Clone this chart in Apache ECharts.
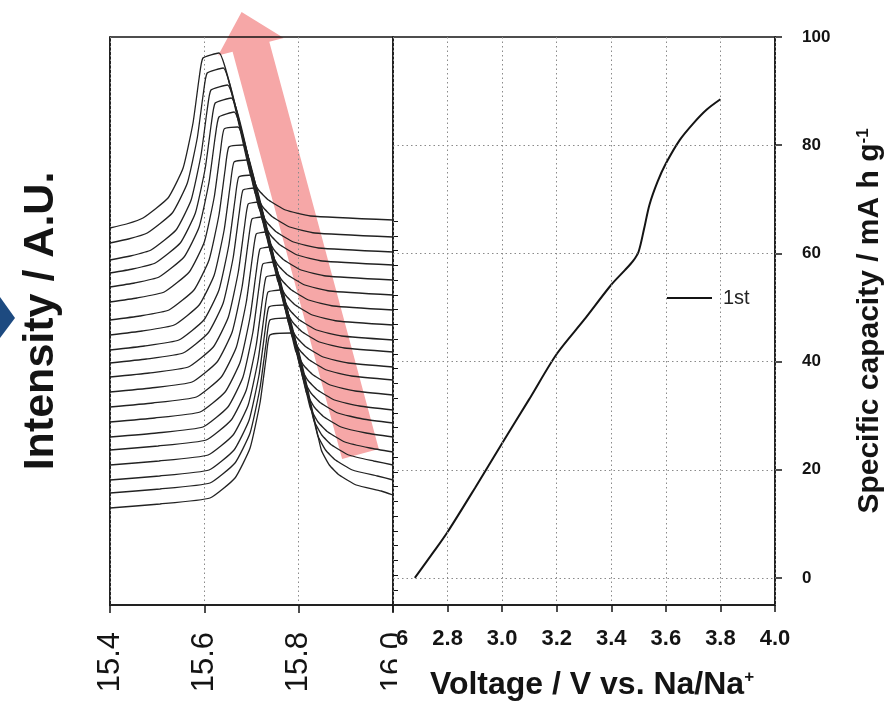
<!DOCTYPE html>
<html>
<head>
<meta charset="utf-8">
<script src="https://cdn.jsdelivr.net/npm/echarts@6/dist/echarts.min.js"></script>
<style>
  html, body { margin: 0; padding: 0; background: #fff; }
  #chart { width: 888px; height: 703px; }
</style>
</head>
<body>
<div id="chart"></div>
<script>
// ---- in-situ XRD: reflection of successive scans, first scan at the bottom ----
// Each scan: 2θ positions (deg) and offset intensity (a.u.) on a common waterfall scale.
const scanAngles = [
  [15.400, 15.506, 15.612, 15.665, 15.697, 15.718, 15.731, 15.739, 15.784, 15.848, 15.865, 15.886, 15.922, 15.975, 16.000],
  [15.400, 15.506, 15.612, 15.665, 15.697, 15.718, 15.731, 15.739, 15.775, 15.840, 15.857, 15.878, 15.914, 15.967, 16.000],
  [15.400, 15.505, 15.610, 15.663, 15.695, 15.716, 15.729, 15.737, 15.769, 15.832, 15.849, 15.870, 15.906, 15.959, 16.000],
  [15.400, 15.504, 15.608, 15.661, 15.693, 15.714, 15.727, 15.735, 15.760, 15.824, 15.841, 15.862, 15.898, 15.951, 16.000],
  [15.400, 15.502, 15.604, 15.657, 15.689, 15.710, 15.723, 15.731, 15.752, 15.816, 15.833, 15.854, 15.890, 15.943, 16.000],
  [15.400, 15.499, 15.597, 15.650, 15.682, 15.703, 15.716, 15.724, 15.746, 15.809, 15.826, 15.847, 15.883, 15.936, 16.000],
  [15.400, 15.495, 15.591, 15.644, 15.676, 15.697, 15.710, 15.718, 15.737, 15.802, 15.819, 15.840, 15.876, 15.929, 16.000],
  [15.400, 15.491, 15.583, 15.636, 15.668, 15.689, 15.702, 15.710, 15.729, 15.793, 15.810, 15.831, 15.867, 15.920, 16.000],
  [15.400, 15.487, 15.574, 15.627, 15.659, 15.680, 15.693, 15.701, 15.720, 15.785, 15.802, 15.823, 15.859, 15.912, 16.000],
  [15.400, 15.483, 15.566, 15.619, 15.651, 15.672, 15.685, 15.693, 15.714, 15.778, 15.795, 15.816, 15.852, 15.905, 16.000],
  [15.400, 15.477, 15.555, 15.608, 15.640, 15.661, 15.674, 15.682, 15.705, 15.770, 15.787, 15.808, 15.844, 15.897, 16.000],
  [15.400, 15.473, 15.546, 15.599, 15.631, 15.652, 15.665, 15.673, 15.699, 15.764, 15.781, 15.802, 15.838, 15.891, 16.000],
  [15.400, 15.468, 15.536, 15.589, 15.621, 15.642, 15.655, 15.663, 15.690, 15.755, 15.772, 15.793, 15.829, 15.882, 16.000],
  [15.400, 15.463, 15.525, 15.578, 15.610, 15.631, 15.644, 15.652, 15.682, 15.747, 15.764, 15.785, 15.821, 15.874, 16.000],
  [15.400, 15.457, 15.515, 15.568, 15.600, 15.621, 15.634, 15.642, 15.671, 15.739, 15.756, 15.777, 15.813, 15.866, 16.000],
  [15.400, 15.452, 15.504, 15.557, 15.589, 15.610, 15.623, 15.631, 15.663, 15.731, 15.748, 15.769, 15.805, 15.858, 16.000],
  [15.400, 15.448, 15.496, 15.549, 15.581, 15.602, 15.615, 15.623, 15.657, 15.723, 15.740, 15.761, 15.797, 15.850, 16.000],
  [15.400, 15.443, 15.487, 15.540, 15.572, 15.593, 15.606, 15.614, 15.649, 15.715, 15.732, 15.753, 15.789, 15.842, 16.000],
  [15.400, 15.439, 15.479, 15.532, 15.564, 15.585, 15.598, 15.606, 15.640, 15.707, 15.724, 15.745, 15.781, 15.834, 16.000],
  [15.400, 15.435, 15.470, 15.523, 15.555, 15.576, 15.589, 15.597, 15.631, 15.698, 15.715, 15.736, 15.772, 15.825, 16.000]
];
const scanCounts = [
  [ 97, 101, 107, 127, 157, 202, 247, 270, 272, 155, 140, 130, 120, 114, 110],
  [112, 116, 122, 142, 172, 217, 262, 285, 287, 170, 155, 145, 135, 129, 125],
  [125, 129, 135, 155, 185, 230, 275, 298, 300, 185, 170, 160, 150, 144, 140],
  [140, 144, 150, 170, 200, 245, 290, 313, 315, 198, 183, 173, 163, 157, 153],
  [155, 159, 165, 185, 215, 260, 305, 328, 330, 213, 198, 188, 178, 172, 168],
  [168, 172, 178, 198, 228, 273, 318, 341, 343, 227, 212, 202, 192, 186, 182],
  [183, 187, 193, 213, 243, 288, 333, 356, 358, 240, 225, 215, 205, 199, 195],
  [198, 202, 208, 228, 258, 303, 348, 371, 373, 255, 240, 230, 220, 214, 210],
  [213, 217, 223, 243, 273, 318, 363, 386, 388, 270, 255, 245, 235, 229, 225],
  [228, 232, 238, 258, 288, 333, 378, 401, 403, 283, 268, 258, 248, 242, 238],
  [242, 246, 252, 272, 302, 347, 392, 415, 417, 298, 283, 273, 263, 257, 253],
  [255, 259, 265, 285, 315, 360, 405, 428, 430, 310, 295, 285, 275, 269, 265],
  [270, 274, 280, 300, 330, 375, 420, 443, 445, 325, 310, 300, 290, 284, 280],
  [285, 289, 295, 315, 345, 390, 435, 458, 460, 340, 325, 315, 305, 299, 295],
  [303, 307, 313, 333, 363, 408, 453, 476, 478, 355, 340, 330, 320, 314, 310],
  [318, 322, 328, 348, 378, 423, 468, 488, 493, 370, 355, 345, 335, 329, 325],
  [332, 336, 342, 362, 392, 437, 482, 502, 507, 385, 370, 360, 350, 344, 340],
  [345, 349, 355, 375, 405, 450, 495, 515, 520, 398, 383, 373, 363, 357, 353],
  [362, 366, 372, 392, 422, 467, 512, 532, 537, 413, 398, 388, 378, 372, 368],
  [377, 381, 387, 407, 437, 482, 527, 547, 552, 430, 415, 405, 395, 389, 385]
];
// minor ticks on the right edge of the intensity panel
const intensityTicks = [15, 30, 45, 60, 74, 89, 104, 119, 133, 148, 163, 178, 192, 207,
                        222, 237, 251, 266, 281, 296, 310, 325, 340, 355, 369, 384];
// shift direction arrow, tail and tip in (2θ, intensity)
const arrowTail = [15.931, 151];
const arrowTip = [15.679, 593];

// ---- first charge: voltage vs. specific capacity ----
const voltage  = [2.68, 2.75, 2.80, 2.90, 3.00, 3.10, 3.20, 3.30, 3.40, 3.45, 3.48, 3.50, 3.52, 3.54, 3.57, 3.60, 3.65, 3.70, 3.75, 3.80];
const capacity = [0, 4.9, 8.5, 16.6, 24.9, 33.1, 41.4, 47.7, 54.2, 56.9, 58.6, 60.3, 64.5, 69.0, 73.3, 76.6, 80.9, 84.0, 86.6, 88.5];
const capacityTicks = [0, 20, 40, 60, 80, 100];
const cycleName = '1st';

const FONT = "'Liberation Sans', Arial, Helvetica, sans-serif";
const INK = '#141414';
const DOT = { type: [1.5, 3], color: '#8a8a8a', width: 1 };

const chart = echarts.init(document.getElementById('chart'), null, { renderer: 'canvas' });

const scanSeries = scanAngles.map((angles, i) => ({
  type: 'line',
  name: 'scan ' + (i + 1),
  xAxisIndex: 0,
  yAxisIndex: 0,
  data: angles.map((a, j) => [a, scanCounts[i][j]]),
  symbol: 'none',
  smooth: 0.15,
  lineStyle: { color: '#222', width: 1.3 },
  silent: true,
  z: 3
}));

const option = {
  animation: false,
  backgroundColor: '#ffffff',
  textStyle: { fontFamily: FONT },
  grid: [
    { left: 110, top: 37, width: 283, height: 568, outerBoundsMode: 'none', show: true, borderColor: INK, borderWidth: 1.5, z: 1 },
    { left: 393, top: 37, width: 382, height: 568, outerBoundsMode: 'none', show: true, borderColor: INK, borderWidth: 1.5, z: 1 }
  ],
  xAxis: [
    {
      gridIndex: 0, type: 'value', min: 15.4, max: 16.0, interval: 0.2, z: 1,
      axisLine: { show: true, onZero: false, lineStyle: { color: INK, width: 1.5 } },
      axisTick: { show: true, length: 8, lineStyle: { color: INK, width: 1.5 } },
      axisLabel: {
        rotate: 90, margin: 27, fontSize: 31, color: INK, fontFamily: FONT,
        showMinLabel: true, showMaxLabel: true, hideOverlap: false,
        formatter: v => v.toFixed(1)
      },
      splitLine: { show: true, lineStyle: DOT }
    },
    {
      gridIndex: 1, type: 'value', min: 2.6, max: 4.0, interval: 0.2, z: 10,
      axisLine: { show: true, onZero: false, lineStyle: { color: INK, width: 1.5 } },
      axisTick: { show: true, length: 7, lineStyle: { color: INK, width: 1.5 } },
      axisLabel: {
        margin: 23, fontSize: 22, fontWeight: 'bold', color: INK, fontFamily: FONT,
        showMinLabel: true, showMaxLabel: true, hideOverlap: false,
        formatter: v => Math.abs(v - 2.6) < 1e-6 ? '{h|2.}6' : v.toFixed(1),
        rich: { h: { color: 'rgba(0,0,0,0)', fontSize: 22, fontWeight: 'bold', fontFamily: FONT } }
      },
      splitLine: { show: true, lineStyle: DOT },
      name: 'Voltage / V vs. Na/Na{sup|+}',
      nameLocation: 'middle',
      nameGap: 64,
      nameTextStyle: {
        fontSize: 32, fontWeight: 'bold', color: INK, fontFamily: FONT,
        padding: [0, 0, 0, 16],
        rich: { sup: { fontSize: 17, fontWeight: 'bold', color: INK, fontFamily: FONT, verticalAlign: 'top' } }
      }
    }
  ],
  yAxis: [
    {
      gridIndex: 0, type: 'value', min: 0, max: 568, position: 'left',
      axisLine: { show: true, lineStyle: { color: INK, width: 1.5 } },
      axisTick: { show: false }, axisLabel: { show: false }, splitLine: { show: false },
      name: 'Intensity / A.U.',
      nameLocation: 'middle',
      nameGap: 47,
      nameTextStyle: { fontSize: 43, fontWeight: 'bold', color: INK, fontFamily: FONT }
    },
    {
      gridIndex: 0, type: 'value', min: 0, max: 568, position: 'right',
      axisLine: { show: false },
      axisTick: { show: true, inside: false, length: 5, customValues: intensityTicks, lineStyle: { color: INK, width: 1 } },
      axisLabel: { show: false }, splitLine: { show: false }
    },
    {
      gridIndex: 1, type: 'value', min: -5, max: 100, position: 'right',
      axisLine: { show: true, lineStyle: { color: INK, width: 1.5 } },
      axisTick: { show: true, length: 7, customValues: capacityTicks, lineStyle: { color: INK, width: 1.5 } },
      axisLabel: {
        margin: 27, fontSize: 17, fontWeight: 'bold', color: INK, fontFamily: FONT,
        customValues: capacityTicks
      },
      splitLine: { show: false },
      name: 'Specific capacity / mA h g{sup|-1}',
      nameLocation: 'middle',
      nameGap: 80,
      nameTextStyle: {
        fontSize: 30, fontWeight: 'bold', color: INK, fontFamily: FONT,
        rich: { sup: { fontSize: 17, fontWeight: 'bold', color: INK, fontFamily: FONT, verticalAlign: 'top' } }
      }
    }
  ],
  legend: {
    data: [cycleName],
    left: 662, top: 283,
    icon: 'rect',
    itemWidth: 45, itemHeight: 2,
    textStyle: { fontSize: 20, color: '#222', fontFamily: FONT, padding: [0, 0, 0, 6] },
    selectedMode: false
  },
  series: scanSeries.concat([
    {
      type: 'line',
      name: cycleName,
      xAxisIndex: 1,
      yAxisIndex: 2,
      data: voltage.map((v, i) => [v, capacity[i]]),
      symbol: 'none',
      smooth: 0.3,
      lineStyle: { color: INK, width: 2 },
      itemStyle: { color: INK },
      z: 3,
      markLine: {
        silent: true,
        symbol: ['none', 'none'],
        label: { show: false },
        lineStyle: DOT,
        data: capacityTicks.slice(0, 5).map(v => ({ yAxis: v }))
      }
    }
  ])
};

chart.setOption(option);

// shift arrow over the peak panel, built from its tail and tip in data space
const tail = chart.convertToPixel({ xAxisIndex: 0, yAxisIndex: 0 }, arrowTail);
const tip = chart.convertToPixel({ xAxisIndex: 0, yAxisIndex: 0 }, arrowTip);
const dx = tip[0] - tail[0], dy = tip[1] - tail[1];
const len = Math.hypot(dx, dy);
const ux = dx / len, uy = dy / len;
const nx = -uy, ny = ux;
const shaftHalf = 19, headHalf = 34, headLen = 36;
const hb = [tip[0] - ux * headLen, tip[1] - uy * headLen];
const arrowPts = [
  [tail[0] - nx * shaftHalf, tail[1] - ny * shaftHalf],
  [hb[0] - nx * shaftHalf, hb[1] - ny * shaftHalf],
  [hb[0] - nx * headHalf, hb[1] - ny * headHalf],
  tip,
  [hb[0] + nx * headHalf, hb[1] + ny * headHalf],
  [hb[0] + nx * shaftHalf, hb[1] + ny * shaftHalf],
  [tail[0] + nx * shaftHalf, tail[1] + ny * shaftHalf]
];

chart.setOption({
  graphic: [
    { type: 'polygon', z: 0, silent: true, shape: { points: arrowPts }, style: { fill: '#f6a7a7' } },
    // slide marker at the left edge
    { type: 'polygon', z: 0, silent: true, shape: { points: [[0, 297], [15, 318], [0, 338]] }, style: { fill: '#1d4a80' } },
    // panel seam: the right panel covers the tail of the last 2θ label
    { type: 'rect', z: 5, silent: true, shape: { x: 397, y: 614, width: 24, height: 89 }, style: { fill: '#ffffff' } }
  ]
});
</script>
</body>
</html>
